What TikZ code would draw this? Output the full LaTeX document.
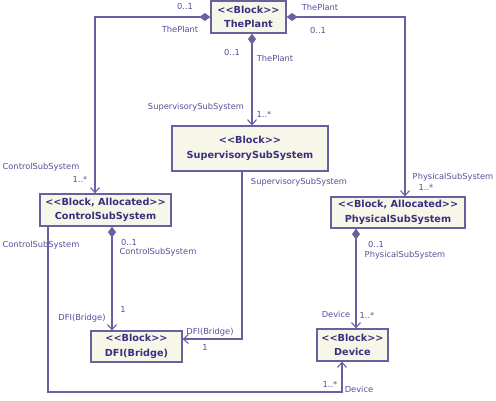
\documentclass[tikz,border=0pt]{standalone}
\usepackage{fontspec}
\setmainfont{DejaVu Sans}[Ligatures=TeXOff]
\usetikzlibrary{arrows.meta}
\definecolor{ln}{HTML}{6A5FA0}
\definecolor{tx}{HTML}{3C2E7E}
\definecolor{lb}{HTML}{5A4E9A}
\definecolor{bf}{HTML}{F7F7E9}
\begin{document}
\begin{tikzpicture}[x=1pt,y=-1pt,
  block/.style={draw=ln, fill=bf, line width=1.2pt, text=tx, font=\fontsize{9.7}{14.5}\selectfont\bfseries, align=center, inner sep=0pt},
  lab/.style={text=lb, font=\fontsize{8.3}{10}\selectfont, inner sep=0pt},
  conn/.style={draw=ln, line width=1.1pt},
  comp/.style={conn, {Diamond[length=11pt,width=8pt]}-{Straight Barb[length=5pt,width=9pt]}},
  nav/.style={conn, -{Straight Barb[length=5pt,width=9pt]}}]
\useasboundingbox (0,0) rectangle (496,401);
\fill[white] (0,0) rectangle (496,401);
% blocks
\node[block, minimum width=75pt, minimum height=32pt] (plant) at (248.5,17) {<<Block>>\\ThePlant};
\node[block, minimum width=156pt, minimum height=45pt] (sup) at (250,148.5) {<<Block>>\\SupervisorySubSystem};
\node[block, minimum width=131pt, minimum height=32pt] (ctrl) at (105.5,210) {<<Block, Allocated>>\\ControlSubSystem};
\node[block, minimum width=134pt, minimum height=31pt] (phys) at (398,212.5) {<<Block, Allocated>>\\PhysicalSubSystem};
\node[block, minimum width=91pt, minimum height=31pt] (dfi) at (136.5,346.5) {<<Block>>\\DFI(Bridge)};
\node[block, minimum width=71pt, minimum height=32pt] (dev) at (352.5,345) {<<Block>>\\Device};
% helper coordinates
\coordinate (xL) at (95,0);
\coordinate (xR) at (405,0);
\coordinate (xS) at (252,0);
\coordinate (xC1) at (48,0);
\coordinate (yB) at (0,392);
\coordinate (xD) at (342,0);
\coordinate (xC2) at (112,0);
\coordinate (xSu) at (242,0);
\coordinate (yS) at (0,339);
\coordinate (xP) at (356,0);
% connectors
\draw[comp] (plant.west) -| (xL |- ctrl.north);
\draw[comp] (plant.east) -| (xR |- phys.north);
\draw[comp] (xS |- plant.south) -- (xS |- sup.north);
\draw[nav] (xC1 |- ctrl.south) -- (xC1 |- yB) -- (xD |- yB) -- (xD |- dev.south);
\draw[comp] (xC2 |- ctrl.south) -- (xC2 |- dfi.north);
\draw[nav] (xSu |- sup.south) -- (xSu |- yS) -- (dfi.east |- yS);
\draw[comp] (xP |- phys.south) -- (xP |- dev.north);
% labels
\node[lab] (l1) at (185,6) {0..1};
\node[lab] (l2) at (180,29) {ThePlant};
\node[lab] (l3) at (320,7) {ThePlant};
\node[lab] (l4) at (318,30) {0..1};
\node[lab] (l5) at (232,52) {0..1};
\node[lab] (l6) at (275,58) {ThePlant};
\node[lab] (l7) at (196,107) {SupervisorySubSystem};
\node[lab] (l8) at (264,114) {1..*};
\node[lab] (l9) at (41,167) {ControlSubSystem};
\node[lab] (l10) at (80,179) {1..*};
\node[lab] (l11) at (41,245) {ControlSubSystem};
\node[lab] (l12) at (129,242) {0..1};
\node[lab] (l13) at (158,252) {ControlSubSystem};
\node[lab] (l14) at (299,182) {SupervisorySubSystem};
\node[lab] (l15) at (453,177) {PhysicalSubSystem};
\node[lab] (l16) at (426,187) {1..*};
\node[lab] (l17) at (376,244) {0..1};
\node[lab] (l18) at (405,255) {PhysicalSubSystem};
\node[lab] (l19) at (123,309) {1};
\node[lab] (l20) at (82,318) {DFI(Bridge)};
\node[lab] (l21) at (210,332) {DFI(Bridge)};
\node[lab] (l22) at (205,347) {1};
\node[lab] (l23) at (336,314) {Device};
\node[lab] (l24) at (367,315) {1..*};
\node[lab] (l25) at (330,384) {1..*};
\node[lab] (l26) at (359,389) {Device};
\end{tikzpicture}
\end{document}
